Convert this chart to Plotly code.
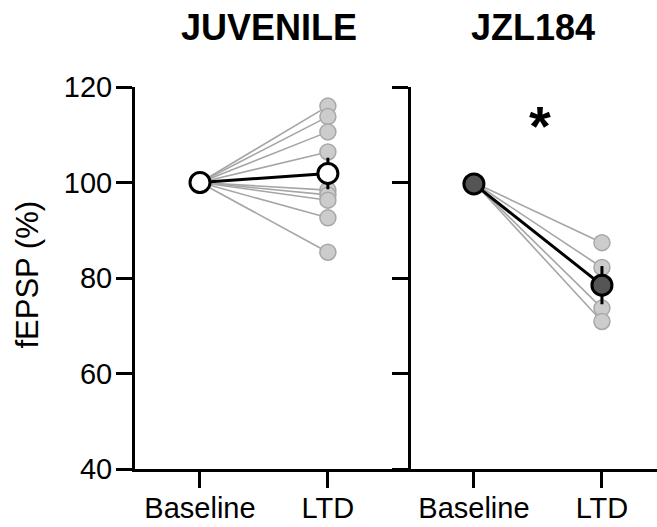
import plotly.graph_objects as go

# values
conditions = ["Baseline", "LTD"]
juv_ltd = [116.0, 113.8, 110.6, 106.4, 98.4, 97.4, 96.3, 92.6, 85.4]
juv_mean = [100.0, 101.9]
juv_sem = [0.0, 3.3]
jzl_ltd = [87.4, 82.2, 73.7, 70.9]
jzl_mean = [99.7, 78.5]
jzl_sem = [0.0, 4.0]

FONT = "Arial, Liberation Sans, sans-serif"
GREY_LINE = "#a6a6a6"
GREY_FILL = "#cccccc"
GREY_EDGE = "#a8a8a8"

fig = go.Figure()


def add_panel(fig, ltd, mean, sem, fill, xa, ya):
    for v in ltd:
        fig.add_trace(go.Scatter(
            x=[0, 1], y=[100, v], xaxis=xa, yaxis=ya,
            mode="lines+markers",
            line=dict(color=GREY_LINE, width=1.6),
            marker=dict(size=16, color=GREY_FILL, line=dict(color=GREY_EDGE, width=1.5)),
            cliponaxis=False, showlegend=False, hoverinfo="skip",
        ))
    fig.add_trace(go.Scatter(
        x=[0, 1], y=mean, xaxis=xa, yaxis=ya,
        mode="lines+markers",
        line=dict(color="black", width=3),
        marker=dict(size=20, color=fill, line=dict(color="black", width=3)),
        error_y=dict(type="data", array=sem, color="black", thickness=3, width=0),
        cliponaxis=False, showlegend=False,
    ))


add_panel(fig, juv_ltd, juv_mean, juv_sem, "white", "x", "y")
add_panel(fig, jzl_ltd, jzl_mean, jzl_sem, "#555555", "x2", "y2")

axis_common = dict(
    showline=True, linecolor="black", linewidth=3,
    ticks="outside", tickcolor="black", tickwidth=3, ticklen=16,
    tickfont=dict(family=FONT, size=29, color="black"),
    showgrid=False, zeroline=False,
)

fig.update_layout(
    width=657, height=527,
    margin=dict(l=135, r=0, t=87, b=58),
    paper_bgcolor="white", plot_bgcolor="white",
    xaxis=dict(**axis_common, domain=[0, 0.494], range=[-0.508, 1.508],
               tickvals=[0, 1], ticktext=conditions, anchor="y", ticklabelstandoff=-5),
    yaxis=dict(**axis_common, domain=[0, 1], range=[40, 120],
               tickvals=[40, 60, 80, 100, 120], anchor="x", ticklabelstandoff=-2),
    xaxis2=dict(**axis_common, domain=[0.494, 1], range=[-0.633, 1.43],
                tickvals=[0, 1], ticktext=conditions, anchor="y2", ticklabelstandoff=-5),
    yaxis2=dict(**axis_common, domain=[0, 1], range=[40, 120],
                tickvals=[40, 60, 80, 100, 120], showticklabels=False,
                anchor="free", position=0.525),
)

fig.add_annotation(text="fEPSP (%)", textangle=-90, xref="paper", yref="paper",
                   x=-0.205, y=0.509, xanchor="center", yanchor="middle", showarrow=False,
                   font=dict(family=FONT, size=31, color="black"))
fig.add_annotation(text="<b>JUVENILE</b>", xref="paper", yref="paper",
                   x=0.257, y=1.157, xanchor="center", yanchor="middle", showarrow=False,
                   font=dict(family=FONT, size=36, color="black"))
fig.add_annotation(text="<b>JZL184</b>", xref="paper", yref="paper",
                   x=0.762, y=1.157, xanchor="center", yanchor="middle", showarrow=False,
                   font=dict(family=FONT, size=36, color="black"))
fig.add_annotation(text="<b>*</b>", xref="x2", yref="y2",
                   x=0.52, y=112.0, xanchor="center", yanchor="middle", showarrow=False,
                   font=dict(family=FONT, size=56, color="black"))

fig.write_html("out.html", config={"displayModeBar": False},
               post_script="document.body.style.margin='0px';")
